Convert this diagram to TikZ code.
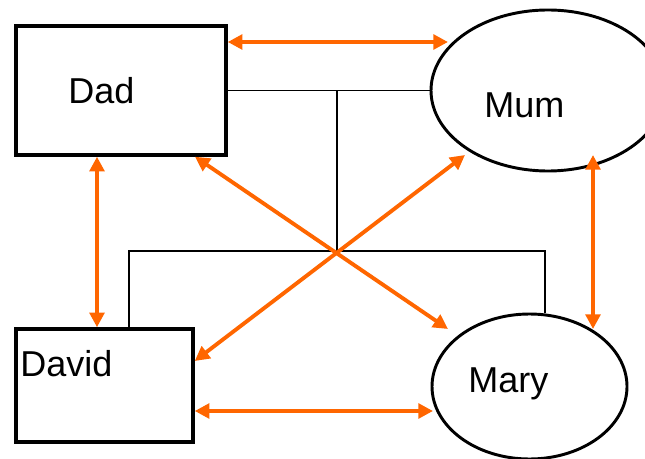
\documentclass[tikz,border=0pt]{standalone}
\usepackage{fontspec}
\setmainfont{Liberation Sans}
\usepackage{xcolor}
\usetikzlibrary{positioning,shapes.geometric,arrows.meta,calc}
\definecolor{arancio}{HTML}{FF6600}

\begin{document}
\begin{tikzpicture}[x=0.75pt,y=-0.75pt,
    persona/.style={draw, rectangle, line width=2.6pt, inner sep=0pt},
    personaell/.style={draw, ellipse, line width=2.2pt, inner sep=0pt},
    nome/.style={anchor=base west, inner sep=0pt, font=\fontsize{27}{32}\selectfont},
    biarrow/.style={draw=arancio, line width=2.9pt,
      {Triangle[length=11pt,width=11pt]}-{Triangle[length=11pt,width=11pt]}},
    famline/.style={draw, line width=0.9pt}]
    \useasboundingbox (0,0) rectangle (645,459);

    %persone
    \node[persona, minimum width=157.5pt, minimum height=96.75pt] (Dad) at (121,90.5) {};
    \node[personaell, minimum width=175.5pt, minimum height=120.75pt] (Mum) at (548,90.5) {};
    \node[persona, minimum width=132.75pt, minimum height=84.75pt] (David) at (104.5,385.5) {};
    \node[personaell, minimum width=146.25pt, minimum height=108.75pt] (Mary) at (529.5,386.5) {};

    %nomi
    \node[nome] (dadtxt) at (68,104) {Dad};
    \node[nome] (mumtxt) at (484,118) {Mum};
    \node[nome] (davidtxt) at (20,376) {David};
    \node[nome] (marytxt) at (468,392) {Mary};

    %linee della famiglia
    \coordinate (hub) at (337,251);
    \draw[famline] (Dad.east) -- (Mum.west);
    \draw[famline] (hub |- Dad.east) -- (hub);
    \coordinate (davidtop) at ($(David.north)+(24.5,0)$);
    \draw[famline] (davidtop) -- (davidtop |- hub) -- (hub -| Mary.78) -- (Mary.78);

    %frecce
    \coordinate (mumleft) at ($(Mum.center)+(-100,-48.5)$);
    \draw[biarrow] (Dad.east |- mumleft) -- (mumleft);
    \coordinate (dadlow) at ($(Dad.south)+(-24,0)$);
    \draw[biarrow] (dadlow) -- (dadlow |- David.north);
    \draw[biarrow] ($(Mum.center)+(45,64.5)$) -- ($(Mary.center)+(63.5,-57.5)$);
    \coordinate (maryleft) at ($(Mary.center)+(-96.5,24.5)$);
    \draw[biarrow] (David.east |- maryleft) -- (maryleft);
    \draw[biarrow] ($(Dad.south)+(74,0)$) -- ($(Mary.center)+(-81.5,-57.5)$);
    \draw[biarrow] ($(Mum.center)+(-83,64.5)$) -- ($(David.east)+(0,-24.5)$);
\end{tikzpicture}
\end{document}
